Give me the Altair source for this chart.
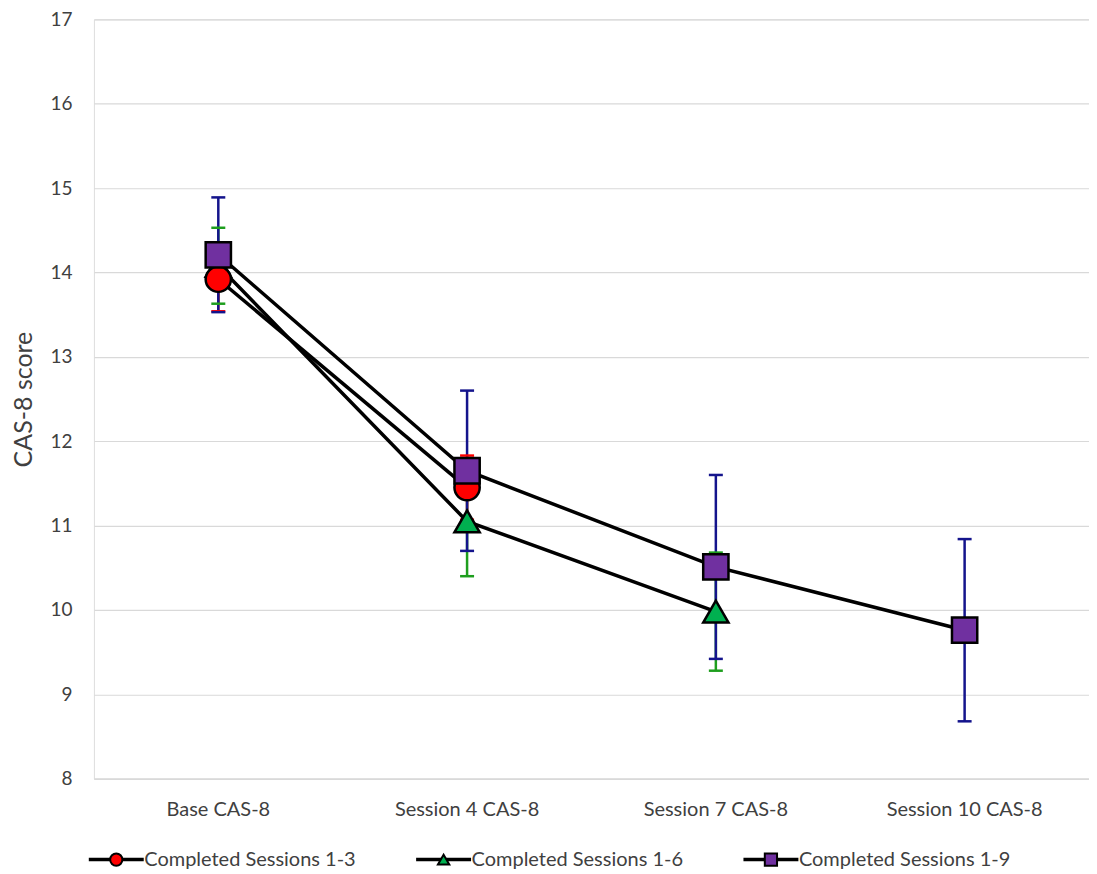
import altair as alt
import pandas as pd

categories = ["Base CAS-8", "Session 4 CAS-8", "Session 7 CAS-8", "Session 10 CAS-8"]
series_names = ["Completed Sessions 1-3", "Completed Sessions 1-6", "Completed Sessions 1-9"]

means_1_3 = [13.92, 11.45, None, None]
err_1_3 = [0.38, 0.38, None, None]
means_1_6 = [14.08, 11.05, 9.98, None]
err_1_6 = [0.45, 0.65, 0.70, None]
means_1_9 = [14.21, 11.65, 10.51, 9.76]
err_1_9 = [0.68, 0.95, 1.09, 1.08]

marker_fill = ["#FF0000", "#00B050", "#7030A0"]
err_color = ["#FF0000", "#1E9E1E", "#14148C"]
marker_shape = ["circle", "triangle-up", "square"]
legend_marker_size = [150, 130, 150]

# draw order: 1-6 first, then 1-3, then 1-9 on top
draw_order = [1, 0, 2]
all_means = [means_1_3, means_1_6, means_1_9]
all_errs = [err_1_3, err_1_6, err_1_9]

rows = []
k = 0
for s in draw_order:
    for i, (cat, m, e) in enumerate(zip(categories, all_means[s], all_errs[s])):
        if m is None:
            continue
        rows.append({"series": series_names[s], "cat": cat, "idx": i, "k": k,
                     "mean": m, "lo": m - e, "hi": m + e})
        k += 1
df = pd.DataFrame(rows)

leg_df = pd.DataFrame({"series": series_names, "lsize": legend_marker_size})

FONT = "Lato"
TXT = "#404040"

x_enc = alt.X("cat:N", sort=categories, title=None,
              scale=alt.Scale(domain=categories, paddingInner=0, paddingOuter=0))
y_scale = alt.Scale(domain=[8, 17], nice=False, zero=False)

base = alt.Chart(df)

lines = base.mark_line(color="black", strokeWidth=3.5).encode(
    x=x_enc,
    y=alt.Y("mean:Q", scale=y_scale, title="CAS-8 score",
            axis=alt.Axis(values=list(range(8, 18)), format="d")),
    detail="series:N",
    order="idx:Q",
)

err_scale = alt.Scale(domain=series_names, range=err_color)

rules = base.mark_rule(strokeWidth=2.5, opacity=1).encode(
    x=x_enc,
    y="lo:Q",
    y2="hi:Q",
    color=alt.Color("series:N", scale=err_scale, legend=None),
    order="k:Q",
)
caps_lo = base.mark_tick(orient="horizontal", size=14, thickness=2.5, opacity=1).encode(
    x=x_enc,
    y="lo:Q",
    color=alt.Color("series:N", scale=err_scale, legend=None),
)
caps_hi = base.mark_tick(orient="horizontal", size=14, thickness=2.5, opacity=1).encode(
    x=x_enc,
    y="hi:Q",
    color=alt.Color("series:N", scale=err_scale, legend=None),
)

point_layers = []
for s in draw_order:
    point_layers.append(
        base.transform_filter(alt.datum.series == series_names[s]).mark_point(
            filled=True, shape=marker_shape[s], fill=marker_fill[s], stroke="black",
            strokeWidth=2.5, size=640, opacity=1,
        ).encode(x=x_enc, y="mean:Q")
    )

main = alt.layer(lines, rules, caps_lo, caps_hi, *point_layers)

# ---- legend drawn with its own band scale below the plot ----
lx = alt.X("series:N", sort=series_names, axis=None,
           scale=alt.Scale(domain=series_names, paddingInner=0, paddingOuter=0.02))
LEG_Y = alt.value(841)
lbase = alt.Chart(leg_df)
leg_line = lbase.mark_tick(orient="horizontal", size=55, thickness=3.5, color="black",
                           opacity=1, xOffset=-148).encode(x=lx, y=LEG_Y)
leg_point = lbase.mark_point(filled=True, stroke="black", strokeWidth=2, opacity=1,
                             xOffset=-148).encode(
    x=lx, y=LEG_Y,
    fill=alt.Fill("series:N", scale=alt.Scale(domain=series_names, range=marker_fill), legend=None),
    shape=alt.Shape("series:N", scale=alt.Scale(domain=series_names, range=marker_shape), legend=None),
    size=alt.Size("lsize:Q", scale=None, legend=None),
)
leg_text = lbase.mark_text(align="left", baseline="middle", xOffset=-120, fontSize=20,
                           font=FONT, color=TXT).encode(x=lx, y=LEG_Y, text="series:N")
legend = alt.layer(leg_line, leg_point, leg_text)

chart = alt.layer(main, legend).resolve_scale(x="independent").properties(
    width=996, height=760,
    padding={"left": 3, "top": 2, "right": 0, "bottom": 0},
).configure_view(stroke=None).configure(background="white").configure_axisX(
    labelAngle=0, labelFontSize=20, labelColor=TXT, labelFont=FONT,
    ticks=False, domainColor="#d9d9d9", domainWidth=1.5, labelPadding=21, grid=False,
).configure_axisY(
    labelFontSize=19, labelColor=TXT, labelFont=FONT, ticks=False, domain=False,
    gridColor="#d9d9d9", gridWidth=1.2, labelPadding=22,
    titleFontSize=25, titleFont=FONT, titleColor=TXT, titleFontWeight="normal", titlePadding=13,
)

chart.save("out.html", embed_options={"renderer": "svg", "actions": False})
